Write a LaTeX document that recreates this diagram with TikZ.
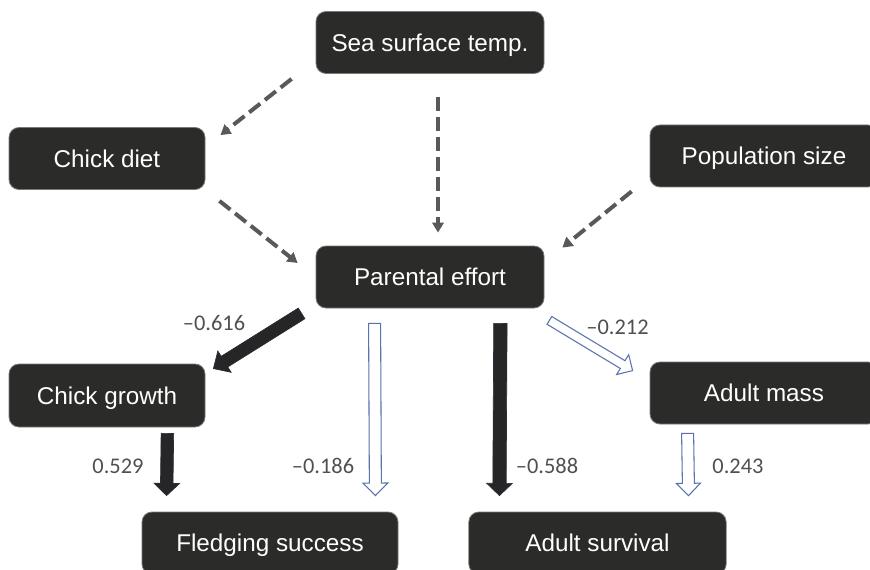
\documentclass[tikz,border=0pt]{standalone}
\usepackage{fontspec}
\setmainfont{Liberation Sans}
\newfontfamily\labfont{Carlito}
\usetikzlibrary{calc,arrows.meta}
\definecolor{boxfill}{RGB}{43,43,42}
\definecolor{boxedge}{RGB}{120,120,120}
\definecolor{dashgray}{RGB}{89,89,89}
\definecolor{labgray}{RGB}{80,80,80}
\definecolor{hollowedge}{RGB}{90,115,170}
\definecolor{solidfill}{RGB}{38,38,38}
\definecolor{solidedge}{RGB}{40,45,60}
% style, A, B, half shaft width, half head width, head length
\newcommand\blockarr[6]{%
  \coordinate (bh) at ($(#3)!#6!(#2)$);
  \path[#1] ($(#2)!#4!90:(#3)$) -- ($(bh)!#4!90:(#3)$) -- ($(bh)!#5!90:(#3)$) -- (#3)
    -- ($(bh)!#5!-90:(#3)$) -- ($(bh)!#4!-90:(#3)$) -- ($(#2)!#4!-90:(#3)$) -- cycle;
}
\begin{document}
\begin{tikzpicture}[x=0.75pt,y=-0.75pt,
  box/.style={rectangle, rounded corners=7.5pt, fill=boxfill, draw=boxedge, line width=0.6pt,
    text=white, font=\fontsize{18.2}{21}\selectfont, minimum height=46.5pt, inner sep=0pt,
    text height=12.9pt, text depth=0pt},
  dasharr/.style={draw=dashgray, line width=3pt, dash pattern=on 10.5pt off 4.5pt,
    -{Triangle[length=7.5pt,width=8.5pt]}},
  solidarr/.style={fill=solidfill, draw=solidedge, line width=0.5pt},
  hollowarr/.style={fill=white, draw=hollowedge, line width=0.8pt},
  lab/.style={text=labgray, font=\labfont\fontsize{16.8}{19}\selectfont, inner sep=0pt}]
\useasboundingbox (0,0) rectangle (870,570);
\clip (0,0) rectangle (870,570);

% boxes
\node[box, minimum width=171pt] (sea) at (430,42.5) {Sea surface temp.};
\node[box, minimum width=147pt] (diet) at (107,158.5) {Chick diet};
\node[box, minimum width=171pt] (pop) at (764,156) {Population size};
\node[box, minimum width=171pt] (parent) at (430,277) {Parental effort};
\node[box, minimum width=147pt, minimum height=47.25pt] (growth) at (107,395.5) {Chick growth};
\node[box, minimum width=171pt] (mass) at (764,393) {Adult mass};
\node[box, minimum width=192pt] (fledge) at (270,543) {Fledging success};
\node[box, minimum width=193pt] (surv) at (597.5,543) {Adult survival};

% dashed connectors
\coordinate (d1a) at ($(sea.south west)+(-24,5)$);
\coordinate (d1b) at ($(diet.north east)+(15,8)$);
\coordinate (d2a) at ($(sea.south)+(8,23)$);
\coordinate (d2b) at ($(parent.north)+(8,-13)$);
\coordinate (d3a) at ($(diet.south east)+(14,11)$);
\coordinate (d3b) at ($(parent.west)+(-18,-14)$);
\coordinate (d4a) at ($(pop.south west)+(-18,4)$);
\coordinate (d4b) at ($(parent.north east)+(18,2)$);
\draw[dasharr] (d1a) -- (d1b);
\draw[dasharr] (d2a) -- (d2b);
\draw[dasharr] (d3a) -- (d3b);
\draw[dasharr] (d4a) -- (d4b);

% block arrows
\coordinate (b1a) at ($(parent.south west)+(-14,5)$);
\coordinate (b1b) at ($(growth.north east)+(8,5)$);
\blockarr{solidarr}{b1a}{b1b}{4.7pt}{9.4pt}{9.8pt}
\coordinate (b2a) at ($(parent.south east)+(-44,15)$);
\coordinate (b2b) at ($(surv.north west)+(31,-16)$);
\blockarr{solidarr}{b2a}{b2b}{5pt}{9.6pt}{9.2pt}
\coordinate (b3a) at ($(growth.south east)+(-38,6)$);
\coordinate (b3b) at ($(fledge.north west)+(25,-16)$);
\blockarr{solidarr}{b3a}{b3b}{4.7pt}{9.6pt}{9.2pt}
\coordinate (b4a) at ($(parent.south west)+(59,15)$);
\coordinate (b4b) at ($(fledge.north east)+(-23,-16)$);
\blockarr{hollowarr}{b4a}{b4b}{4.5pt}{9.3pt}{9.4pt}
\coordinate (b5a) at ($(mass.south west)+(38,9)$);
\coordinate (b5b) at ($(surv.north east)+(-38,-16)$);
\blockarr{hollowarr}{b5a}{b5b}{4.5pt}{9pt}{9.2pt}
\coordinate (b6a) at ($(parent.south east)+(5,12)$);
\coordinate (b6b) at ($(mass.north west)+(-17,9)$);
\blockarr{hollowarr}{b6a}{b6b}{3.4pt}{8.7pt}{8.7pt}

% labels
\node[lab] (l1) at (214,323) {–0.616};
\node[lab] (l2) at (617.5,327) {–0.212};
\node[lab] (l3) at (323,466) {–0.186};
\node[lab] (l4) at (118,466) {0.529};
\node[lab] (l5) at (547,466) {–0.588};
\node[lab] (l6) at (738,466) {0.243};
\end{tikzpicture}
\end{document}
